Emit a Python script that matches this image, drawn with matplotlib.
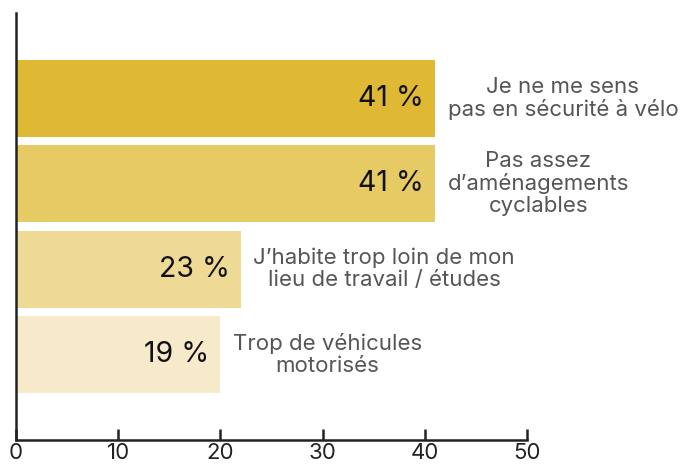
import matplotlib
matplotlib.use("Agg")
import matplotlib.pyplot as plt

# Data
categories = ["Je ne me sens\npas en sécurité à vélo",
              "Pas assez\nd\u2019aménagements\ncyclables",
              "J\u2019habite trop loin de mon\nlieu de travail / études",
              "Trop de véhicules\nmotorisés"]
values = [41, 41, 22, 20]
value_labels = ["41 %", "41 %", "23 %", "19 %"]
colors = ["#DFB933", "#E6CB65", "#EEDA94", "#F6EACB"]

plt.rcParams['font.family'] = ['Inter', 'DejaVu Sans']

fig = plt.figure(figsize=(6.85, 4.66), dpi=100)
ax = fig.add_axes([16 / 685, 26 / 466, 511 / 685, 427 / 466])

pos = list(range(len(values)))
ax.barh(pos, values, height=0.9, color=colors)

for i in pos:
    # value inside the bar, right aligned
    ax.annotate(value_labels[i], (values[i], i), xytext=(-8, 0),
                textcoords="offset points", ha="right", va="center",
                fontsize=20.5, color="#111111")
    # category label to the right of the bar
    ax.annotate(categories[i], (values[i], i), xytext=(9, 0),
                textcoords="offset points", ha="left", va="center",
                multialignment="center", fontsize=16, color="#555555",
                linespacing=1.12, annotation_clip=False)

ax.set_ylim(4, -1)
ax.set_xlim(0, 50)
ax.set_xticks([0, 10, 20, 30, 40, 50])
ax.set_yticks([])

for s in ["top", "right"]:
    ax.spines[s].set_visible(False)
for s in ["left", "bottom"]:
    ax.spines[s].set_linewidth(1.8)
    ax.spines[s].set_color("#222222")

ax.tick_params(axis="x", direction="in", length=8, width=1.8, color="#222222",
               labelsize=16, labelcolor="#222222", pad=2)

fig.savefig("out.png", dpi=100)
